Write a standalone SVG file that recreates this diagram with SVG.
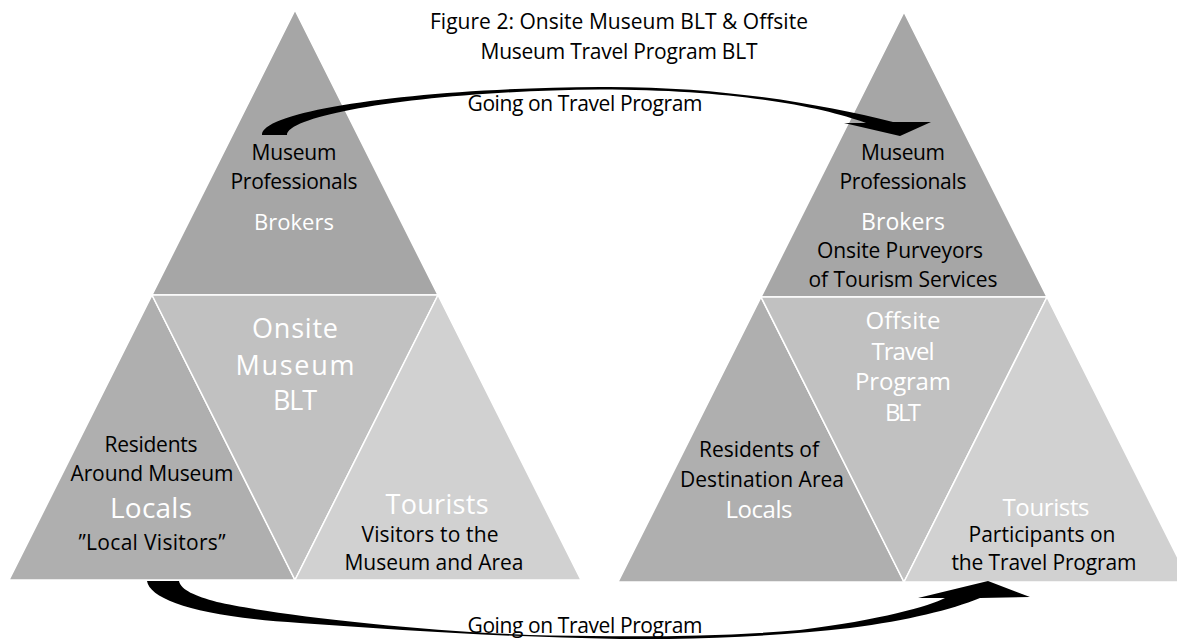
<svg xmlns="http://www.w3.org/2000/svg" width="1177" height="639" viewBox="0 0 1177 639">
  <style>
    .t { font-family: "Open Sans", "Liberation Sans", sans-serif; text-anchor: middle; }
    .dk { fill: #000000; font-size: 21px; }
    .wt { fill: #ffffff; }
    .tri { stroke: #ffffff; stroke-width: 1.5; stroke-linejoin: miter; }
    .top { fill: #a6a6a6; }
    .lft { fill: #afafaf; }
    .mid { fill: #c1c1c1; }
    .rgt { fill: #d1d1d1; }
    .arrow { fill: #000000; stroke: none; }
  </style>

  <rect width="1177" height="639" fill="#ffffff"/>

  <!-- heading -->
  <g id="title">
    <text class="t dk" x="619" y="29" textLength="378">Figure 2: Onsite Museum BLT &amp; Offsite</text>
    <text class="t dk" x="619" y="59" textLength="277">Museum Travel Program BLT</text>
  </g>

  <!-- onsite pyramid -->
  <g id="onsite-brokers">
    <polygon class="tri top" points="295,10 152,295 438,295"/>
    <text class="t dk" x="294" y="160" textLength="85">Museum</text>
    <text class="t dk" x="294" y="189" textLength="127">Professionals</text>
    <text class="t wt" x="294" y="230" font-size="22" textLength="80">Brokers</text>
  </g>
  <g id="onsite-locals">
    <polygon class="tri lft" points="152,295 9,580 295,580"/>
    <text class="t dk" x="151" y="452" textLength="93">Residents</text>
    <text class="t dk" x="152" y="481" textLength="163">Around Museum</text>
    <text class="t wt" x="151" y="518" font-size="28" textLength="82">Locals</text>
    <text class="t dk" x="152" y="550" textLength="147">”Local Visitors”</text>
  </g>
  <g id="onsite-blt">
    <polygon class="tri mid" points="152,295 438,295 295,580"/>
    <text class="t wt" x="295" y="338" font-size="27" textLength="86">Onsite</text>
    <text class="t wt" x="295" y="375" font-size="27" textLength="119">Museum</text>
    <text class="t wt" x="295" y="410" font-size="27" textLength="44">BLT</text>
  </g>
  <g id="onsite-tourists">
    <polygon class="tri rgt" points="438,295 295,580 581,580"/>
    <text class="t wt" x="437" y="514" font-size="27" textLength="103">Tourists</text>
    <text class="t dk" x="430" y="542" textLength="137">Visitors to the</text>
    <text class="t dk" x="434" y="570" textLength="179">Museum and Area</text>
  </g>

  <!-- offsite pyramid -->
  <g id="offsite-brokers">
    <polygon class="tri top" points="904,12 761,297 1047,297"/>
    <text class="t dk" x="903" y="160" textLength="84">Museum</text>
    <text class="t dk" x="903" y="189" textLength="127">Professionals</text>
    <text class="t wt" x="903" y="230" font-size="23" textLength="84">Brokers</text>
    <text class="t dk" x="900" y="258" textLength="166">Onsite Purveyors</text>
    <text class="t dk" x="903" y="287" textLength="189">of Tourism Services</text>
  </g>
  <g id="offsite-locals">
    <polygon class="tri lft" points="761,297 618,582 904,582"/>
    <text class="t dk" x="759" y="457" textLength="120">Residents of</text>
    <text class="t dk" x="762" y="487" textLength="164">Destination Area</text>
    <text class="t wt" x="759" y="518" font-size="24" textLength="67">Locals</text>
  </g>
  <g id="offsite-blt">
    <polygon class="tri mid" points="761,297 1047,297 904,582"/>
    <text class="t wt" x="903" y="329" font-size="24" textLength="75">Offsite</text>
    <text class="t wt" x="903" y="360" font-size="24" textLength="63">Travel</text>
    <text class="t wt" x="903" y="390" font-size="24" textLength="96">Program</text>
    <text class="t wt" x="903" y="421" font-size="24" textLength="36">BLT</text>
  </g>
  <g id="offsite-tourists">
    <polygon class="tri rgt" points="1047,297 904,582 1190,582"/>
    <text class="t wt" x="1046" y="516" font-size="24" textLength="87">Tourists</text>
    <text class="t dk" x="1042" y="542" textLength="147">Participants on</text>
    <text class="t dk" x="1044" y="570" textLength="185">the Travel Program</text>
  </g>

  <!-- curved block arrows between the pyramids -->
  <g id="connectors">
    <path class="arrow" d="M262,135 C262,110 420,88 600,87 C720,86 820,104 893,122 L931,122 L900,136 L844,123 L866,123 C820,106 730,89.5 600,89.5 C430,91 288,114 287,135 Z"/>
    <text class="t dk" x="585" y="111" textLength="235">Going on Travel Program</text>
    <path class="arrow" d="M147,581 C150,600 200,617 300,623 C400,630 500,637 620,639 C700,640 780,636 850,628 C910,620 950,610 980,598 L1030,597 L988,581 L918,598 L945,598 C930,606 880,620 800,630 C720,637 640,637 550,635.5 C420,632 270,614 217,602 C195,596 181,590 179,581 Z"/>
    <text class="t dk" x="585" y="633" textLength="235">Going on Travel Program</text>
  </g>
</svg>
